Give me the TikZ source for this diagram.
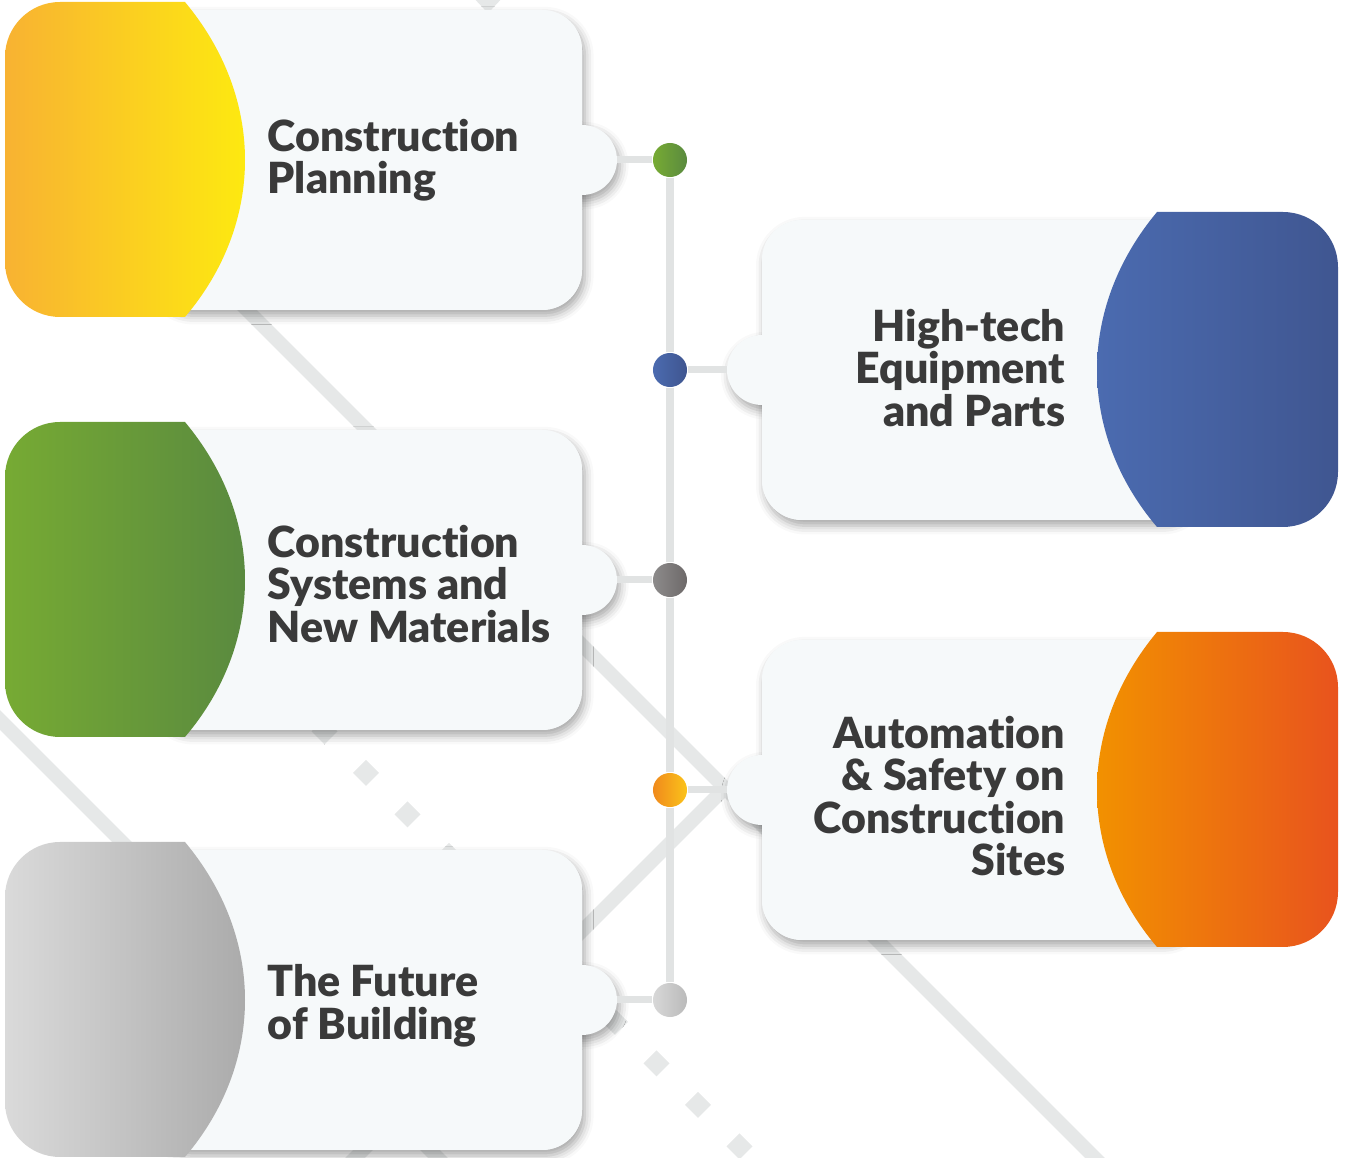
\documentclass[tikz,border=0pt]{standalone}
\usepackage{fontspec}
\setmainfont[Ligatures=NoCommon, BoldFont={Lato Black}]{Lato}
\usetikzlibrary{shadows.blur}
\definecolor{ink}{HTML}{3A3A3A}
\definecolor{paper}{HTML}{F6F9FA}
\definecolor{bgl}{HTML}{E6E8E8}
\definecolor{wire}{HTML}{E1E3E3}
\definecolor{yelA}{HTML}{F8B133}
\definecolor{yelB}{HTML}{FDE910}
\definecolor{grnA}{HTML}{77AB33}
\definecolor{grnB}{HTML}{5A8A3F}
\definecolor{gryA}{HTML}{DBDBDB}
\definecolor{gryB}{HTML}{ABABAB}
\definecolor{bluA}{HTML}{4B6BB0}
\definecolor{bluB}{HTML}{3F558F}
\definecolor{ornA}{HTML}{F29100}
\definecolor{ornB}{HTML}{E8501F}
\definecolor{dgrA}{HTML}{8D8B8B}
\definecolor{dgrB}{HTML}{6D6969}
\definecolor{lgrA}{HTML}{D8D8D8}
\definecolor{lgrB}{HTML}{BABABA}
\definecolor{sunA}{HTML}{F08A1C}
\definecolor{sunB}{HTML}{FBC31A}
\tikzset{
    cardshadow/.style={blur shadow={shadow xshift=0.8pt, shadow yshift=-1.6pt, shadow blur radius=2.5pt, shadow opacity=35}},
    bgline/.style={draw=bgl, line width=0.14cm},
}
\begin{document}
\begin{tikzpicture}[x=0.01cm, y=-0.01cm]
    \useasboundingbox (0,0) rectangle (1350,1158);
    % background lines
    \begin{scope}
        \draw[bgline] (20,83) -- (725,788) -- (330,1183);
        \draw[bgline] (725,788) -- (1110,1173);
        \draw[bgline] (-20,700) -- (470,1190);
        \draw[bgline] (474,-12) -- (488,3) -- (502,-12);
        \foreach \k in {-1,...,9}
            \fill[bgl] ({366+41.5*\k},{760+41.5*\k}) -- ++(13,13) -- ++(-13,13) -- ++(-13,-13) -- cycle;
    \end{scope}
    % left cards
    \foreach \c/\ca/\cb in {160/yelA/yelB, 580/grnA/grnB, 1000/gryA/gryB} {
        \fill[paper, cardshadow, rounded corners=0.4cm] (150,\c-150) rectangle (582,\c+150);
        \fill[paper, cardshadow] (582,\c) circle[radius=35];
        \fill[paper, rounded corners=0.4cm] (150,\c-150) rectangle (582,\c+150);
        \begin{scope}
            \clip[rounded corners=0.55cm] (5,\c-158) rectangle (400,\c+157);
            \shade[left color=\ca, right color=\cb] (0,\c-160) -- (185,\c-158)
                .. controls (225,\c-110) and (245,\c-55) .. (245,\c)
                .. controls (245,\c+55) and (225,\c+110) .. (185,\c+157) -- (0,\c+160) -- cycle;
        \end{scope}
    }
    % right cards
    \foreach \c/\ca/\cb in {370/bluA/bluB, 790/ornA/ornB} {
        \fill[paper, cardshadow, rounded corners=0.4cm] (762,\c-150) rectangle (1200,\c+150);
        \fill[paper, cardshadow] (762,\c) circle[radius=35];
        \fill[paper, rounded corners=0.4cm] (762,\c-150) rectangle (1200,\c+150);
        \begin{scope}
            \clip[rounded corners=0.55cm] (950,\c-158) rectangle (1338,\c+157);
            \shade[left color=\ca, right color=\cb] (1350,\c-160) -- (1157,\c-158)
                .. controls (1117,\c-110) and (1097,\c-55) .. (1097,\c)
                .. controls (1097,\c+55) and (1117,\c+110) .. (1157,\c+157) -- (1350,\c+160) -- cycle;
        \end{scope}
    }
    % tabs
    \coordinate (t1) at (617,160);
    \coordinate (t2) at (727,370);
    \coordinate (t3) at (617,580);
    \coordinate (t4) at (727,790);
    \coordinate (t5) at (617,1000);
    \begin{scope}
        \tikzstyle{every node}=[circle, minimum size=0.34cm, inner sep=0pt]
        \node[left color=grnA, right color=grnB] (1) at (670,160) {};
        \node[left color=bluA, right color=bluB] (2) at (670,370) {};
        \node[left color=dgrA, right color=dgrB] (3) at (670,580) {};
        \node[left color=sunA, right color=sunB] (4) at (670,790) {};
        \node[left color=lgrA, right color=lgrB] (5) at (670,1000) {};
    \end{scope}
    \begin{scope}
        \tikzstyle{every edge}=[draw=wire, line width=0.07cm]
        \path
        (1) edge (2)
        (2) edge (3)
        (3) edge (4)
        (4) edge (5)
        (t1) edge (1)
        (2) edge (t2)
        (t3) edge (3)
        (4) edge (t4)
        (t5) edge (5);
    \end{scope}
    \begin{scope}
        \tikzstyle{every node}=[text=ink, font=\bfseries\fontsize{12.2}{12.1}\selectfont, inner sep=0pt]
        \node[anchor=west, align=left] (l1) at (267,160) {Construction\\Planning};
        \node[anchor=east, align=right] (l2) at (1066,368) {High-tech\\Equipment\\and Parts};
        \node[anchor=west, align=left] (l3) at (267,584) {Construction\\Systems and\\New Materials};
        \node[anchor=east, align=right] (l4) at (1066,796) {Automation\\\& Safety on\\Construction\\Sites};
        \node[anchor=west, align=left] (l5) at (267,1006) {The Future\\of Building};
    \end{scope}
\end{tikzpicture}
\end{document}
